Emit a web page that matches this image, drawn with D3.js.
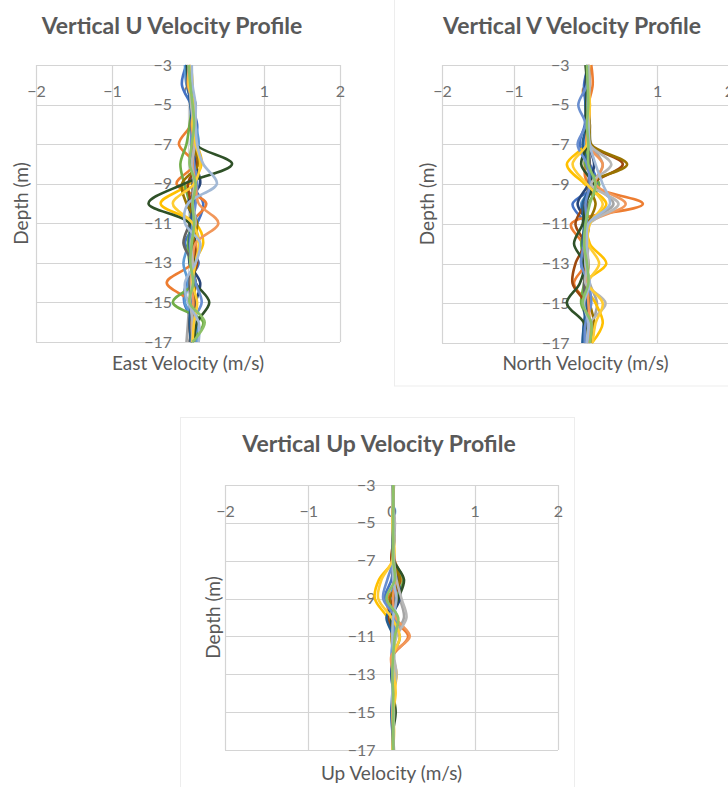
<!DOCTYPE html>
<html>
<head>
<meta charset="utf-8">
<script src="https://cdn.jsdelivr.net/npm/d3@7"></script>
<style>
  html, body { margin: 0; padding: 0; background: #fff; }
  svg { display: block; }
</style>
</head>
<body>
<svg id="chart" width="728" height="787"></svg>
<script>
// ---------------- DATA ----------------
const depthValues = [-3, -4, -5, -6, -7, -8, -9, -10, -11, -12, -13, -14, -15, -16, -17];
const depthTicks = [-3, -5, -7, -9, -11, -13, -15, -17];
const velocityTicks = [-2, -1, 0, 1, 2];
const seriesColors = ["#4472C4", "#ED7D31", "#A5A5A5", "#FFC000", "#5B9BD5", "#70AD47",
  "#264478", "#9E480E", "#636363", "#997300", "#255E91", "#2F5128",
  "#698ED0", "#F1975A", "#B7B7B7", "#FFCD33", "#A2B9D6", "#8CC168"];
const panelTitles = ["Vertical U Velocity Profile", "Vertical V Velocity Profile", "Vertical Up Velocity Profile"];
const xAxisTitles = ["East Velocity (m/s)", "North Velocity (m/s)", "Up Velocity (m/s)"];
const yAxisTitle = "Depth (m)";

const eastVelocity = [
  [-0.02, -0.08, 0.04, 0.12, 0.10, 0.08, 0.05, 0.20, 0.12, -0.04, 0.14, -0.02, -0.05, 0.06, 0.08],
  [0.02, 0.04, 0.05, 0.04, -0.12, 0.08, -0.15, 0.24, 0.05, 0.10, 0.06, -0.28, 0.04, 0.08, 0.06],
  [0.01, 0.00, 0.06, 0.08, 0.10, 0.04, 0.12, 0.02, 0.08, 0.15, 0.10, 0.06, 0.02, 0.00, -0.02],
  [0.04, 0.06, 0.06, 0.08, 0.12, 0.18, 0.02, -0.36, 0.10, 0.20, 0.08, 0.05, 0.10, 0.05, 0.04],
  [-0.04, -0.02, 0.06, 0.10, 0.14, 0.06, 0.10, 0.04, 0.12, 0.02, -0.06, 0.00, -0.04, 0.10, 0.12],
  [0.00, 0.02, 0.05, 0.02, -0.02, -0.10, -0.05, 0.02, 0.04, 0.00, 0.02, 0.08, -0.20, 0.20, 0.04],
  [-0.01, 0.01, 0.10, 0.08, 0.06, 0.10, 0.16, 0.00, 0.10, 0.08, 0.02, 0.16, 0.10, 0.04, 0.06],
  [0.02, 0.05, 0.04, 0.06, 0.10, 0.12, 0.00, 0.04, 0.06, 0.08, 0.12, 0.04, 0.08, 0.02, 0.05],
  [0.00, -0.01, 0.05, 0.04, 0.06, 0.08, 0.06, 0.06, 0.02, -0.06, 0.05, 0.02, 0.04, 0.06, 0.02],
  [0.03, 0.02, 0.08, 0.10, 0.06, 0.14, -0.08, -0.02, 0.12, 0.06, 0.04, 0.10, 0.06, 0.04, 0.05],
  [-0.02, 0.00, 0.03, 0.05, 0.08, 0.04, 0.10, 0.08, 0.04, 0.02, 0.05, 0.08, 0.04, 0.02, 0.04],
  [-0.01, 0.01, 0.06, 0.08, 0.10, 0.58, -0.05, -0.52, 0.02, 0.05, 0.08, 0.10, 0.28, 0.12, 0.08],
  [0.01, 0.03, 0.09, 0.06, 0.04, 0.08, 0.12, 0.10, 0.06, 0.03, 0.05, 0.10, 0.18, 0.06, 0.07],
  [0.02, 0.00, 0.07, 0.05, 0.08, 0.06, 0.10, 0.14, 0.40, 0.10, 0.06, 0.04, 0.07, 0.05, 0.06],
  [0.01, 0.02, 0.04, 0.07, 0.09, 0.05, 0.08, 0.06, 0.10, 0.04, 0.06, 0.05, 0.03, 0.06, 0.05],
  [0.03, 0.01, 0.08, 0.06, 0.10, 0.16, 0.08, -0.20, 0.06, 0.14, 0.10, 0.06, 0.12, 0.08, 0.06],
  [0.05, 0.06, 0.10, 0.10, 0.12, 0.20, 0.38, 0.00, -0.04, 0.16, 0.10, -0.04, 0.00, 0.14, 0.14],
  [0.01, 0.03, 0.06, 0.08, 0.05, 0.02, 0.10, 0.06, 0.08, 0.05, 0.03, 0.07, 0.02, 0.22, 0.06]
];

const northVelocity = [
  [0.04, -0.02, 0.00, -0.01, -0.08, 0.06, 0.16, -0.18, -0.01, -0.04, -0.06, 0.00, 0.04, -0.02, -0.04],
  [0.08, 0.10, 0.04, 0.02, 0.04, -0.01, 0.04, 0.80, -0.20, -0.04, 0.00, -0.16, 0.02, 0.04, 0.06],
  [0.04, 0.06, 0.04, 0.06, 0.08, 0.24, 0.14, 0.39, 0.00, 0.04, 0.02, 0.06, 0.16, 0.10, 0.04],
  [0.06, 0.04, 0.06, 0.04, 0.00, -0.26, -0.01, 0.29, 0.04, 0.06, 0.29, -0.01, 0.14, 0.24, 0.09],
  [0.04, 0.03, 0.02, 0.00, -0.02, 0.04, 0.12, -0.06, 0.00, 0.02, -0.02, 0.04, -0.04, 0.02, 0.00],
  [0.02, 0.04, 0.03, 0.04, 0.06, -0.01, 0.19, 0.04, 0.02, -0.06, 0.00, -0.02, -0.06, 0.06, 0.04],
  [0.03, 0.00, 0.02, 0.01, 0.04, 0.12, 0.04, -0.11, 0.04, 0.00, -0.04, 0.02, -0.02, 0.00, -0.02],
  [0.06, 0.04, 0.05, 0.03, 0.06, 0.52, 0.09, -0.01, -0.14, -0.02, -0.14, -0.18, 0.00, 0.04, 0.02],
  [0.02, 0.01, 0.03, 0.02, 0.04, 0.06, 0.04, 0.02, 0.00, -0.01, 0.02, -0.02, 0.00, 0.02, 0.01],
  [0.04, 0.05, 0.04, 0.06, 0.08, 0.58, 0.06, 0.14, 0.04, 0.00, 0.04, 0.02, 0.06, 0.12, 0.08],
  [0.01, 0.02, 0.00, 0.02, -0.04, 0.04, 0.08, -0.04, -0.02, -0.04, 0.00, 0.04, 0.02, -0.02, -0.04],
  [0.00, 0.02, 0.01, 0.00, 0.02, -0.06, 0.10, 0.00, -0.04, -0.16, -0.02, -0.08, -0.26, -0.02, 0.00],
  [0.03, 0.02, -0.10, 0.00, -0.11, 0.02, 0.06, 0.00, 0.02, -0.02, -0.06, 0.04, 0.08, 0.00, -0.01],
  [0.06, 0.04, 0.06, 0.04, 0.02, 0.24, 0.14, 0.56, 0.04, -0.01, 0.00, 0.02, 0.04, 0.06, 0.04],
  [0.04, 0.06, 0.04, 0.05, 0.06, 0.36, 0.08, 0.46, 0.06, 0.02, 0.04, 0.00, 0.28, 0.06, 0.02],
  [0.05, 0.04, 0.06, 0.04, 0.02, -0.18, 0.02, 0.24, 0.06, 0.04, 0.19, 0.04, 0.24, 0.14, 0.10],
  [0.04, 0.04, 0.03, 0.04, 0.06, 0.14, 0.24, 0.34, 0.04, 0.02, 0.00, 0.06, -0.02, 0.04, 0.02],
  [0.02, 0.03, 0.04, 0.02, 0.04, 0.04, 0.14, 0.06, 0.00, -0.02, 0.02, 0.04, -0.04, 0.08, 0.06]
];

const upVelocity = [
  [0.02, 0.02, 0.01, 0.02, 0.03, 0.00, -0.08, 0.04, 0.02, 0.01, 0.00, 0.02, 0.01, 0.02, 0.02],
  [0.02, 0.01, 0.02, 0.02, 0.04, 0.12, -0.05, 0.00, 0.20, 0.02, 0.01, 0.02, 0.03, 0.01, 0.02],
  [0.03, 0.02, 0.04, 0.03, 0.02, 0.05, 0.10, 0.15, 0.04, 0.02, 0.05, 0.02, 0.03, 0.02, 0.03],
  [0.02, 0.02, 0.02, 0.03, 0.02, -0.15, -0.20, -0.05, 0.04, 0.02, 0.06, 0.03, 0.02, 0.03, 0.02],
  [0.01, 0.02, 0.01, 0.02, 0.02, 0.03, 0.00, 0.06, 0.02, 0.03, 0.01, 0.02, 0.00, 0.01, 0.02],
  [0.02, 0.01, 0.02, 0.02, 0.03, 0.14, 0.05, -0.04, 0.10, 0.02, 0.02, 0.01, 0.03, 0.02, 0.01],
  [0.01, 0.02, 0.02, 0.01, 0.02, 0.08, 0.10, 0.00, 0.01, 0.02, 0.00, 0.02, 0.02, 0.01, 0.02],
  [0.02, 0.02, 0.03, 0.02, 0.00, 0.10, 0.02, -0.04, 0.02, 0.01, 0.02, 0.01, 0.02, 0.02, 0.01],
  [0.02, 0.01, 0.02, 0.03, 0.01, 0.02, 0.04, 0.02, 0.01, 0.02, 0.01, 0.02, 0.01, 0.02, 0.02],
  [0.02, 0.02, 0.01, 0.02, 0.02, 0.10, -0.02, 0.02, 0.00, 0.02, 0.01, 0.03, 0.02, 0.01, 0.02],
  [0.01, 0.01, 0.02, 0.01, 0.02, 0.02, 0.05, -0.06, 0.02, 0.01, 0.02, 0.01, 0.00, 0.01, 0.02],
  [0.02, 0.02, 0.02, 0.02, 0.03, 0.15, 0.08, 0.00, 0.02, 0.02, 0.01, 0.02, 0.05, 0.02, 0.02],
  [0.01, 0.02, 0.01, 0.02, 0.02, -0.05, -0.10, 0.04, 0.02, 0.00, 0.02, 0.01, 0.02, 0.02, 0.01],
  [0.02, 0.01, 0.02, 0.02, 0.02, 0.04, 0.02, 0.05, 0.22, 0.00, 0.02, 0.02, 0.01, 0.02, 0.02],
  [0.02, 0.01, 0.04, 0.02, 0.03, 0.06, 0.12, 0.18, 0.06, 0.03, 0.06, 0.02, 0.03, 0.02, 0.02],
  [0.02, 0.02, 0.01, 0.02, 0.01, -0.12, -0.16, 0.00, 0.10, 0.02, 0.03, 0.05, 0.02, 0.02, 0.01],
  [0.02, 0.02, 0.02, 0.02, 0.02, 0.02, 0.06, 0.02, 0.01, 0.02, 0.02, 0.01, 0.02, 0.02, 0.02],
  [0.02, 0.02, 0.02, 0.02, 0.02, 0.04, -0.06, 0.08, 0.04, 0.02, 0.01, 0.02, 0.02, 0.02, 0.02]
];

// ---------------- DRAWING ----------------
const svg = d3.select("#chart");
const FONT = "Lato, 'Open Sans', 'Liberation Sans', sans-serif";
const TEXT = "#595959";
const TICK = "#707070";
const GRID = "#d4d4d4";

// faint chart-area frames
svg.append("rect").attr("x", 394.5).attr("y", -2).attr("width", 340).attr("height", 388)
  .attr("fill", "none").attr("stroke", "#ededed");
svg.append("rect").attr("x", 180.5).attr("y", 417.5).attr("width", 394).attr("height", 375)
  .attr("fill", "none").attr("stroke", "#ededed");

const panels = [
  { data: eastVelocity, title: panelTitles[0], xTitle: xAxisTitles[0],
    x0: 36, x1: 340, y0: 65, y1: 342, titleX: 172, titleY: 25, yTitleX: 20, xTitleY: 362 },
  { data: northVelocity, title: panelTitles[1], xTitle: xAxisTitles[1],
    x0: 442, x1: 729, y0: 65, y1: 343, titleX: 572, titleY: 25, yTitleX: 426, xTitleY: 362 },
  { data: upVelocity, title: panelTitles[2], xTitle: xAxisTitles[2],
    x0: 225, x1: 558, y0: 485, y1: 750, titleX: 379, titleY: 443, yTitleX: 212, xTitleY: 772 }
];

panels.forEach(p => {
  const g = svg.append("g");
  const x = d3.scaleLinear().domain([-2, 2]).range([p.x0, p.x1]);
  const y = d3.scaleLinear().domain([-17, -3]).range([p.y1, p.y0]);

  // title
  g.append("text").attr("x", p.titleX).attr("y", p.titleY)
    .attr("text-anchor", "middle").attr("dominant-baseline", "central")
    .attr("font-family", FONT).attr("font-weight", "bold").attr("font-size", 23)
    .attr("fill", TEXT).text(p.title);

  // gridlines
  g.append("g").selectAll("line").data(depthTicks).join("line")
    .attr("x1", p.x0).attr("x2", p.x1)
    .attr("y1", d => Math.round(y(d)) + 0.5).attr("y2", d => Math.round(y(d)) + 0.5)
    .attr("stroke", GRID).attr("stroke-width", 1.2);
  g.append("g").selectAll("line").data(velocityTicks).join("line")
    .attr("x1", d => Math.round(x(d)) + 0.5).attr("x2", d => Math.round(x(d)) + 0.5)
    .attr("y1", p.y0).attr("y2", p.y1)
    .attr("stroke", GRID).attr("stroke-width", 1.2);

  // x tick labels (placed just below top of plot)
  const xAxis = g.append("g")
    .attr("transform", `translate(0,${p.y0 + 21})`)
    .call(d3.axisBottom(x).tickValues(velocityTicks).tickSize(0).tickPadding(0).tickFormat(d3.format("d")));
  xAxis.select(".domain").remove();
  xAxis.selectAll("text").attr("font-family", FONT).attr("font-size", 16).attr("fill", TICK);

  // y tick labels next to the zero axis
  const yAxis = g.append("g")
    .attr("transform", `translate(${x(0)},0)`)
    .call(d3.axisLeft(y).tickValues(depthTicks).tickSize(0).tickPadding(16).tickFormat(d3.format("d")));
  yAxis.select(".domain").remove();
  yAxis.selectAll("text").attr("font-family", FONT).attr("font-size", 16).attr("fill", TICK);

  // axis titles
  g.append("text")
    .attr("transform", `translate(${p.yTitleX},${(p.y0 + p.y1) / 2}) rotate(-90)`)
    .attr("text-anchor", "middle").attr("dominant-baseline", "central")
    .attr("font-family", FONT).attr("font-size", 19).attr("fill", TEXT).text(yAxisTitle);
  g.append("text").attr("x", x(0)).attr("y", p.xTitleY)
    .attr("text-anchor", "middle").attr("dominant-baseline", "central")
    .attr("font-family", FONT).attr("font-size", 19).attr("fill", TEXT).text(p.xTitle);

  // profile lines
  const line = d3.line()
    .x(d => x(d.v)).y(d => y(d.depth))
    .curve(d3.curveCatmullRom.alpha(0.5));
  g.append("g").selectAll("path")
    .data(p.data.map((vals, i) => ({ color: seriesColors[i], pts: vals.map((v, j) => ({ v, depth: depthValues[j] })) })))
    .join("path")
    .attr("d", d => line(d.pts))
    .attr("fill", "none")
    .attr("stroke", d => d.color)
    .attr("stroke-width", 2.6)
    .attr("stroke-linejoin", "round");
});
</script>
</body>
</html>
